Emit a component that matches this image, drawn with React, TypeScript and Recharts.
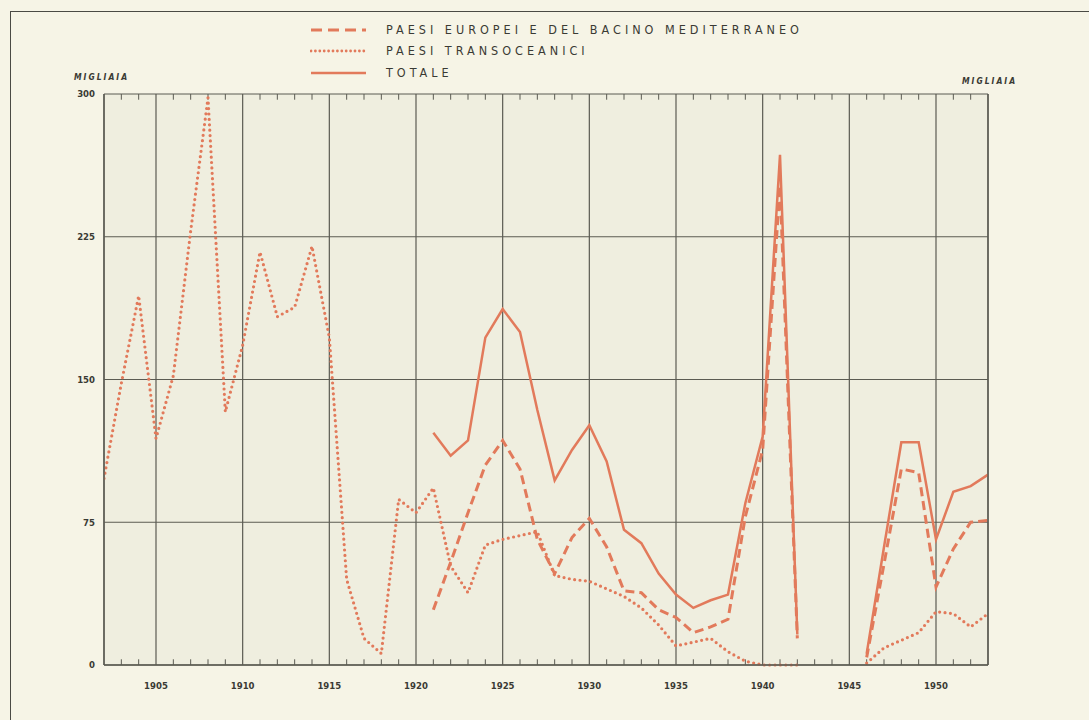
import React from "react";
import {
  LineChart,
  Line,
  XAxis,
  YAxis,
  CartesianGrid,
  ReferenceLine,
} from "recharts";

// years on the horizontal axis
const years = [
  1902, 1903, 1904, 1905, 1906, 1907, 1908, 1909, 1910, 1911, 1912, 1913, 1914,
  1915, 1916, 1917, 1918, 1919, 1920, 1921, 1922, 1923, 1924, 1925, 1926, 1927,
  1928, 1929, 1930, 1931, 1932, 1933, 1934, 1935, 1936, 1937, 1938, 1939, 1940,
  1941, 1942, 1943, 1944, 1945, 1946, 1947, 1948, 1949, 1950, 1951, 1952, 1953,
];

// migliaia - paesi transoceanici
const transoceanici = [
  98, 148, 194, 119, 152, 228, 298, 133, 168, 217, 183, 188, 220,
  172, 45, 14, 6, 87, 80, 93, 52, 38, 63, 66, 68, 70,
  47, 45, 44, 40, 36, 30, 21, 10, 12, 14, 7, 2, 0,
  0, 0, null, null, null, 1, 9, 13, 17, 28, 27, 20, 27,
];

// migliaia - paesi europei e del bacino mediterraneo
const europei = [
  null, null, null, null, null, null, null, null, null, null, null, null, null,
  null, null, null, null, null, null, 29, 54, 80, 105, 118, 103, 66,
  48, 67, 77, 62, 39, 38, 29, 25, 17, 20, 24, 78, 113,
  252, 14, null, null, null, 4, 53, 103, 101, 41, 61, 75, 76,
];

// migliaia - totale
const totale = [
  null, null, null, null, null, null, null, null, null, null, null, null, null,
  null, null, null, null, null, null, 122, 110, 118, 172, 187, 175, 134,
  97, 113, 126, 107, 71, 64, 48, 37, 30, 34, 37, 85, 120,
  268, 16, null, null, null, 6, 62, 117, 117, 66, 91, 94, 100,
];

const xTicks = [1905, 1910, 1915, 1920, 1925, 1930, 1935, 1940, 1945, 1950];
const yTicks = [0, 75, 150, 225, 300];

const legendItems = [
  { label: "PAESI EUROPEI E DEL BACINO MEDITERRANEO", dash: "11 6", width: 3, round: false },
  { label: "PAESI TRANSOCEANICI", dash: "0 4.4", width: 2.8, round: true },
  { label: "TOTALE", dash: "", width: 2.6, round: false },
];

const data = years.map((year, i) => ({
  year,
  transoceanici: transoceanici[i],
  europei: europei[i],
  totale: totale[i],
}));

const ORANGE = "#e27a5b";
const GRID = "#5b5b52";
const INK = "#3a3a34";
const NARROW = `"DejaVu Sans Condensed", "Liberation Sans Narrow", "DejaVu Sans", sans-serif`;

function LegendBox() {
  return (
    <div
      style={{
        position: "absolute",
        left: 310,
        top: 19,
        fontFamily: NARROW,
      }}
    >
      {legendItems.map((it, i) => (
        <div
          key={i}
          style={{ display: "flex", alignItems: "center", height: 21.5 }}
        >
          <svg width={76} height={10}>
            <line
              x1={1}
              x2={56}
              y1={5}
              y2={5}
              stroke={ORANGE}
              strokeWidth={it.width}
              strokeDasharray={it.dash}
              strokeLinecap={it.round ? "round" : "butt"}
            />
          </svg>
          <span
            style={{
              fontSize: 12.5,
              letterSpacing: 4,
              color: INK,
              lineHeight: "12px",
            }}
          >
            {it.label}
          </span>
        </div>
      ))}
    </div>
  );
}

const minorYears = years.filter((y) => y > 1902 && y < 1953 && y % 5 !== 0);

const unitStyle: React.CSSProperties = {
  position: "absolute",
  fontSize: 8.5,
  fontStyle: "italic",
  fontWeight: 700,
  letterSpacing: 2,
  color: INK,
  fontFamily: NARROW,
};

export default function App() {
  const tickStyle = {
    fontSize: 9.5,
    fontWeight: 700,
    fill: INK,
    fontFamily: NARROW,
  };
  return (
    <div
      style={{
        position: "absolute",
        left: 0,
        top: 0,
        width: 1089,
        height: 720,
        background: "#f6f4e6",
        overflow: "hidden",
      }}
    >
      {/* scanned page border */}
      <div
        style={{
          position: "absolute",
          left: 10,
          top: 11,
          width: 1100,
          height: 800,
          borderTop: "1.5px solid #4a4a44",
          borderLeft: "1.5px solid #4a4a44",
        }}
      />
      <LegendBox />
      <div style={{ ...unitStyle, left: 74, top: 72 }}>MIGLIAIA</div>
      <div style={{ ...unitStyle, left: 962, top: 76 }}>MIGLIAIA</div>
      <div style={{ position: "absolute", left: 0, top: 0 }}>
        <LineChart
          width={1089}
          height={720}
          data={data}
          margin={{ top: 94, right: 61, bottom: 25, left: 64 }}
        >
          <CartesianGrid
            yAxisId="left"
            stroke={GRID}
            strokeWidth={1.2}
            fill="#efeedf"
            fillOpacity={1}
          />
          <XAxis
            dataKey="year"
            type="number"
            domain={[1902, 1953]}
            ticks={xTicks}
            allowDataOverflow
            height={30}
            tickLine={false}
            tickSize={0}
            tickMargin={17}
            axisLine={{ stroke: GRID, strokeWidth: 1.4 }}
            tick={tickStyle}
          />
          <YAxis
            yAxisId="left"
            domain={[0, 300]}
            ticks={yTicks}
            width={40}
            tickLine={false}
            tickSize={0}
            tickMargin={9}
            axisLine={{ stroke: GRID, strokeWidth: 1.4 }}
            tick={tickStyle}
          />
          <YAxis
            yAxisId="right"
            orientation="right"
            domain={[0, 300]}
            ticks={yTicks}
            width={40}
            tickLine={false}
            tickSize={0}
            tickMargin={10}
            axisLine={{ stroke: GRID, strokeWidth: 1.4 }}
            tick={tickStyle}
          />
          {minorYears.map((y) => (
            <ReferenceLine
              key={"b" + y}
              yAxisId="left"
              segment={[
                { x: y, y: 0 },
                { x: y, y: 3 },
              ]}
              stroke={GRID}
              strokeWidth={1}
            />
          ))}
          {minorYears.map((y) => (
            <ReferenceLine
              key={"t" + y}
              yAxisId="left"
              segment={[
                { x: y, y: 300 },
                { x: y, y: 297 },
              ]}
              stroke={GRID}
              strokeWidth={1}
            />
          ))}
          <Line
            yAxisId="left"
            dataKey="transoceanici"
            type="linear"
            stroke={ORANGE}
            strokeWidth={3.2}
            strokeDasharray="0 5.4"
            strokeLinecap="round"
            dot={false}
            connectNulls={false}
            isAnimationActive={false}
          />
          <Line
            yAxisId="left"
            dataKey="europei"
            type="linear"
            stroke={ORANGE}
            strokeWidth={3}
            strokeDasharray="9 5"
            dot={false}
            connectNulls={false}
            isAnimationActive={false}
          />
          <Line
            yAxisId="left"
            dataKey="totale"
            type="linear"
            stroke={ORANGE}
            strokeWidth={2.5}
            dot={false}
            connectNulls={false}
            isAnimationActive={false}
          />
        </LineChart>
      </div>
    </div>
  );
}
